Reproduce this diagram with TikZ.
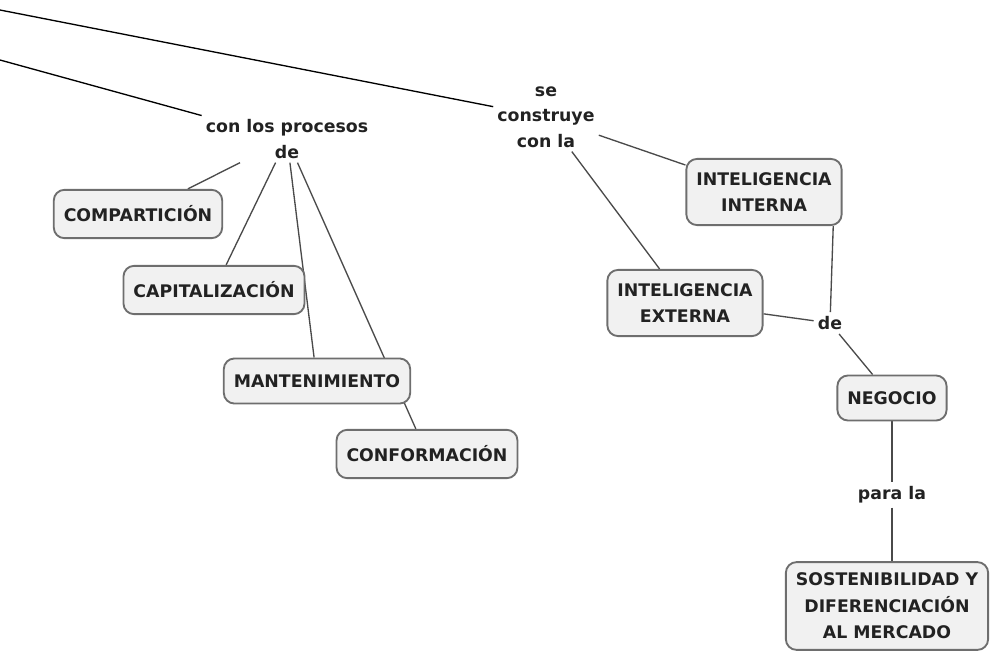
\documentclass[tikz,border=0pt]{standalone}
\usepackage{fontspec}
\setmainfont{DejaVu Sans}
\usetikzlibrary{backgrounds}

\definecolor{boxline}{HTML}{6E6E6E}
\definecolor{boxfill}{HTML}{F1F1F1}
\definecolor{inktext}{HTML}{222222}
\definecolor{linkline}{HTML}{4A4A4A}

\begin{document}
\begin{tikzpicture}[x=0.75pt, y=-0.75pt,
    concept/.style={draw=boxline, line width=1.4pt, fill=boxfill, rounded corners=8pt,
        align=center, inner xsep=7.5pt, inner ysep=12pt, text=inktext,
        font=\fontsize{13}{20}\selectfont\bfseries},
    linkword/.style={align=center, inner sep=3pt, text=inktext,
        font=\fontsize{13}{19}\selectfont\bfseries},
    link/.style={draw=linkline, line width=1pt}]
    \useasboundingbox (0,0) rectangle (993,654);

    % link words
    \node[linkword] (procesos) at (287,139) {con los procesos\\de};
    \node[linkword] (construye) at (546,117) {se\\construye\\con la};
    \node[linkword] (de) at (830,323) {de};
    \node[linkword] (parala) at (892,495) {para la};

    % concepts
    \node[concept] (comparticion) at (138,214) {COMPARTICIÓN};
    \node[concept] (capitalizacion) at (214,290) {CAPITALIZACIÓN};
    \node[concept] (mantenimiento) at (317,381) {MANTENIMIENTO};
    \node[concept] (conformacion) at (427,454) {CONFORMACIÓN};
    \node[concept, inner ysep=10pt] (intinterna) at (764,192) {INTELIGENCIA\\INTERNA};
    \node[concept, inner ysep=10pt] (intexterna) at (685,303) {INTELIGENCIA\\EXTERNA};
    \node[concept] (negocio) at (892,398) {NEGOCIO};
    \node[concept, inner ysep=8pt] (sostenibilidad) at (887,606)
        {SOSTENIBILIDAD Y\\DIFERENCIACIÓN\\AL MERCADO};

    % free ends at the left border
    \coordinate (upperend) at (0,10);
    \coordinate (lowerend) at (0,60);

    \begin{scope}[on background layer]
        \draw[line width=1pt] (upperend) -- (construye);
        \draw[line width=1pt] (lowerend) -- (procesos);

        \draw[link] (procesos) -- (comparticion);
        \draw[link] (procesos) -- (capitalizacion);
        \draw[link] (procesos) -- (mantenimiento);
        \draw[link] (procesos) -- (conformacion);

        \draw[link] (construye) -- (intinterna);
        \draw[link] (construye) -- (intexterna);
        \draw[link] ([xshift=-7pt]intinterna.south east) -- (de);
        \draw[link] (intexterna) -- (de);
        \draw[link] (de) -- (negocio);
        \draw[link] (negocio) -- (parala);
        \draw[link] (parala) -- (parala |- sostenibilidad.north);
    \end{scope}
\end{tikzpicture}
\end{document}
